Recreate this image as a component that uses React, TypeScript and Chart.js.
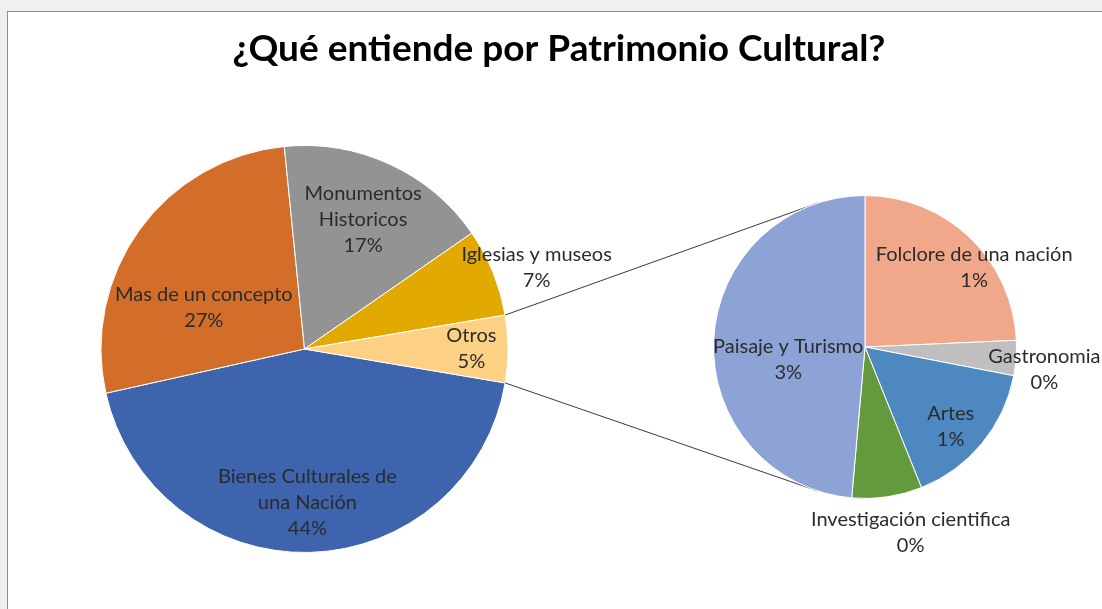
import React, { useEffect, useRef } from "react";
import { Chart, registerables } from "chart.js";

Chart.register(...registerables);

// ---------- data ----------
const titleText = "¿Qué entiende por Patrimonio Cultural?";
const mainCategories = [
  "Bienes Culturales de una Nación",
  "Mas de un concepto",
  "Monumentos Historicos",
  "Iglesias y museos",
  "Otros",
];
const mainValues = [44, 27, 17, 7, 5.35];
const subCategories = [
  "Folclore de una nación",
  "Gastronomia",
  "Artes",
  "Investigación cientifica",
  "Paisaje y Turismo",
];
const subValues = [1.3, 0.2, 0.85, 0.4, 2.6];

// ---------- styles ----------
const mainColors = ["#3D64AD", "#D36E2A", "#939393", "#E2A900", "#FDD184"];
const subColors = ["#F0A78A", "#BFBFBF", "#4D88C0", "#639A3D", "#8EA3D5"];
const LABEL_FONT = "20px Lato";
const LABEL_COLOR = "#2b2b2b";
const LINE_H = 26;
const W = 1102;
const H = 597;

// label placement: angle shift from slice middle (deg), radius fraction, wrap width
const mainPlace = [
  { da: 0.4, rf: 0.755, wrap: 205 },
  { da: -13.3, rf: 0.536, wrap: 240 },
  { da: -0.5, rf: 0.7, wrap: 150 },
  { da: 2.8, rf: 1.209, wrap: 260 },
  { da: 0, rf: 0.82, wrap: 200 },
];
const subPlace = [
  { da: 10.3, rf: 0.89, wrap: 320 },
  { da: 3.1, rf: 1.194, wrap: 320 },
  { da: 3.2, rf: 0.77, wrap: 320 },
  { da: -5.4, rf: 1.263, wrap: 320 },
  { da: -12.1, rf: 0.514, wrap: 320 },
];

const grandTotal = mainValues.reduce((a, b) => a + b, 0);

function wrapText(ctx: CanvasRenderingContext2D, text: string, maxW: number): string[] {
  const words = text.split(" ");
  const lines: string[] = [];
  let cur = "";
  for (const w of words) {
    const test = cur ? cur + " " + w : w;
    if (cur && ctx.measureText(test).width > maxW) {
      lines.push(cur);
      cur = w;
    } else cur = test;
  }
  if (cur) lines.push(cur);
  return lines;
}

function labelPlugin(names: string[], places: { da: number; rf: number; wrap: number }[]) {
  return {
    id: "pieLabels",
    afterDatasetsDraw(chart: any) {
      const ctx: CanvasRenderingContext2D = chart.ctx;
      const meta = chart.getDatasetMeta(0);
      const vals = chart.data.datasets[0].data as number[];
      ctx.save();
      ctx.font = LABEL_FONT;
      ctx.fillStyle = LABEL_COLOR;
      ctx.textAlign = "center";
      ctx.textBaseline = "middle";
      meta.data.forEach((arc: any, i: number) => {
        const p = places[i];
        const mid = (arc.startAngle + arc.endAngle) / 2 + (p.da * Math.PI) / 180;
        const r = arc.outerRadius * p.rf;
        const cx = arc.x + r * Math.cos(mid);
        const cy = arc.y + r * Math.sin(mid);
        const pct = Math.round((vals[i] / grandTotal) * 100) + "%";
        const lines = wrapText(ctx, names[i], p.wrap).concat([pct]);
        const top = cy - ((lines.length - 1) * LINE_H) / 2;
        lines.forEach((ln, k) => ctx.fillText(ln, cx, top + k * LINE_H));
      });
      ctx.restore();
    },
  };
}

const titlePlugin = {
  id: "chartTitle",
  afterDraw(chart: any) {
    const ctx: CanvasRenderingContext2D = chart.ctx;
    ctx.save();
    ctx.font = "bold 37px Lato";
    ctx.fillStyle = "#000";
    ctx.textAlign = "center";
    ctx.textBaseline = "alphabetic";
    ctx.fillText(titleText, chart.width / 2, 49);
    ctx.restore();
  },
};

function connectorPlugin(main: Chart) {
  return {
    id: "connectors",
    beforeDatasetsDraw(chart: any) {
      const ctx: CanvasRenderingContext2D = chart.ctx;
      const mMeta = main.getDatasetMeta(0);
      const other: any = mMeta.data[mMeta.data.length - 1];
      const sArc: any = chart.getDatasetMeta(0).data[0];
      const R = other.outerRadius;
      const p1 = [other.x + R * Math.cos(other.startAngle), other.y + R * Math.sin(other.startAngle)];
      const p2 = [other.x + R * Math.cos(other.endAngle), other.y + R * Math.sin(other.endAngle)];
      const a1 = (-108 * Math.PI) / 180;
      const a2 = (108 * Math.PI) / 180;
      const r = sArc.outerRadius;
      const q1 = [sArc.x + r * Math.cos(a1), sArc.y + r * Math.sin(a1)];
      const q2 = [sArc.x + r * Math.cos(a2), sArc.y + r * Math.sin(a2)];
      ctx.save();
      ctx.strokeStyle = "#3a3a3a";
      ctx.lineWidth = 1;
      ctx.beginPath();
      ctx.moveTo(p1[0], p1[1]);
      ctx.lineTo(q1[0], q1[1]);
      ctx.moveTo(p2[0], p2[1]);
      ctx.lineTo(q2[0], q2[1]);
      ctx.stroke();
      ctx.restore();
    },
  };
}

export default function App() {
  const mainRef = useRef<HTMLCanvasElement>(null);
  const subRef = useRef<HTMLCanvasElement>(null);

  useEffect(() => {
    const otrosDeg = (mainValues[mainValues.length - 1] / grandTotal) * 360;
    const main = new Chart(mainRef.current!, {
      type: "pie",
      data: {
        labels: mainCategories,
        datasets: [
          {
            data: mainValues,
            backgroundColor: mainColors,
            borderColor: "#ffffff",
            borderWidth: 1,
            hoverOffset: 0,
          },
        ],
      },
      options: {
        responsive: false,
        animation: false,
        events: [],
        rotation: 90 + otrosDeg / 2,
        layout: { padding: { left: 92, right: 601, top: 133, bottom: 56 } },
        plugins: { legend: { display: false }, tooltip: { enabled: false } },
      },
      plugins: [labelPlugin(mainCategories, mainPlace), titlePlugin],
    });
    const sub = new Chart(subRef.current!, {
      type: "pie",
      data: {
        labels: subCategories,
        datasets: [
          {
            data: subValues,
            backgroundColor: subColors,
            borderColor: "#ffffff",
            borderWidth: 1,
            hoverOffset: 0,
          },
        ],
      },
      options: {
        responsive: false,
        animation: false,
        events: [],
        rotation: 0,
        layout: { padding: { left: 705, right: 93, top: 183, bottom: 110 } },
        plugins: { legend: { display: false }, tooltip: { enabled: false } },
      },
      plugins: [connectorPlugin(main), labelPlugin(subCategories, subPlace)],
    });
    return () => {
      sub.destroy();
      main.destroy();
    };
  }, []);

  return (
    <div
      style={{
        position: "fixed",
        left: 0,
        top: 0,
        width: 1102,
        height: 609,
        background: "#f0f0f0",
        overflow: "hidden",
      }}
    >
      <div
        style={{
          position: "absolute",
          left: 7,
          top: 11,
          width: W,
          height: H + 1,
          background: "#ffffff",
          borderLeft: "1px solid #8c8c8c",
          borderTop: "1px solid #8c8c8c",
        }}
      >
        <canvas
          ref={mainRef}
          width={W}
          height={H}
          style={{ position: "absolute", left: 0, top: 0, width: W, height: H }}
        />
        <canvas
          ref={subRef}
          width={W}
          height={H}
          style={{ position: "absolute", left: 0, top: 0, width: W, height: H }}
        />
      </div>
    </div>
  );
}
